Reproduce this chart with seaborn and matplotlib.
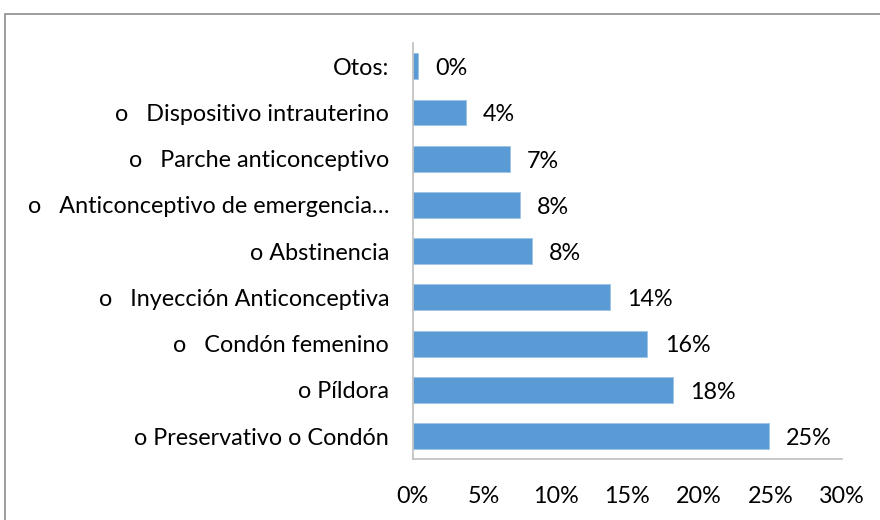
import matplotlib.pyplot as plt
import matplotlib.patches as mpatches
import pandas as pd
import seaborn as sns

# Data
categories = [
    "Otos:",
    "o   Dispositivo intrauterino",
    "o   Parche anticonceptivo",
    "o   Anticonceptivo de emergencia…",
    "o Abstinencia",
    "o   Inyección Anticonceptiva",
    "o   Condón femenino",
    "o Píldora",
    "o Preservativo o Condón",
]
values = [0.4, 3.7, 6.8, 7.5, 8.3, 13.8, 16.4, 18.2, 24.9]
x_ticks = [0, 5, 10, 15, 20, 25, 30]

df = pd.DataFrame({"metodo": categories, "pct": values})

sns.set_style("white")
plt.rcParams["font.family"] = ["Lato", "DejaVu Sans"]

fig = plt.figure(figsize=(8.8, 5.2), dpi=100)
ax = fig.add_axes([0.469, 0.117, 0.488, 0.8])

sns.barplot(data=df, x="pct", y="metodo", orient="h", color="#5B9BD5",
            saturation=1, width=0.56, edgecolor="#9CC3E6", linewidth=0.6, ax=ax)

for i, v in enumerate(values):
    ax.text(v + 1.2, i + 0.05, f"{round(v):.0f}%", va="center", ha="left",
            fontsize=16.8, color="#000000")

ax.set_xlim(0, 30)
ax.set_xticks(x_ticks)
ax.set_xticklabels([f"{t}%" for t in x_ticks])
ax.set_xlabel("")
ax.set_ylabel("")
ax.tick_params(axis="x", length=0, pad=19, labelsize=16.8, labelcolor="#000000")
ax.tick_params(axis="y", length=0, pad=17, labelsize=16.8, labelcolor="#000000")

for side in ["top", "right"]:
    ax.spines[side].set_visible(False)
for side in ["left", "bottom"]:
    ax.spines[side].set_color("#BFBFBF")
    ax.spines[side].set_linewidth(1.2)

# outer chart frame (right and bottom edges fall outside the image)
frame = mpatches.Rectangle((5 / 880, -0.1), 1.2, 1.1 - 14 / 520,
                           transform=fig.transFigure, fill=False,
                           edgecolor="#8C8C8C", linewidth=1.2, clip_on=False)
fig.patches.append(frame)

fig.savefig("out.png")
